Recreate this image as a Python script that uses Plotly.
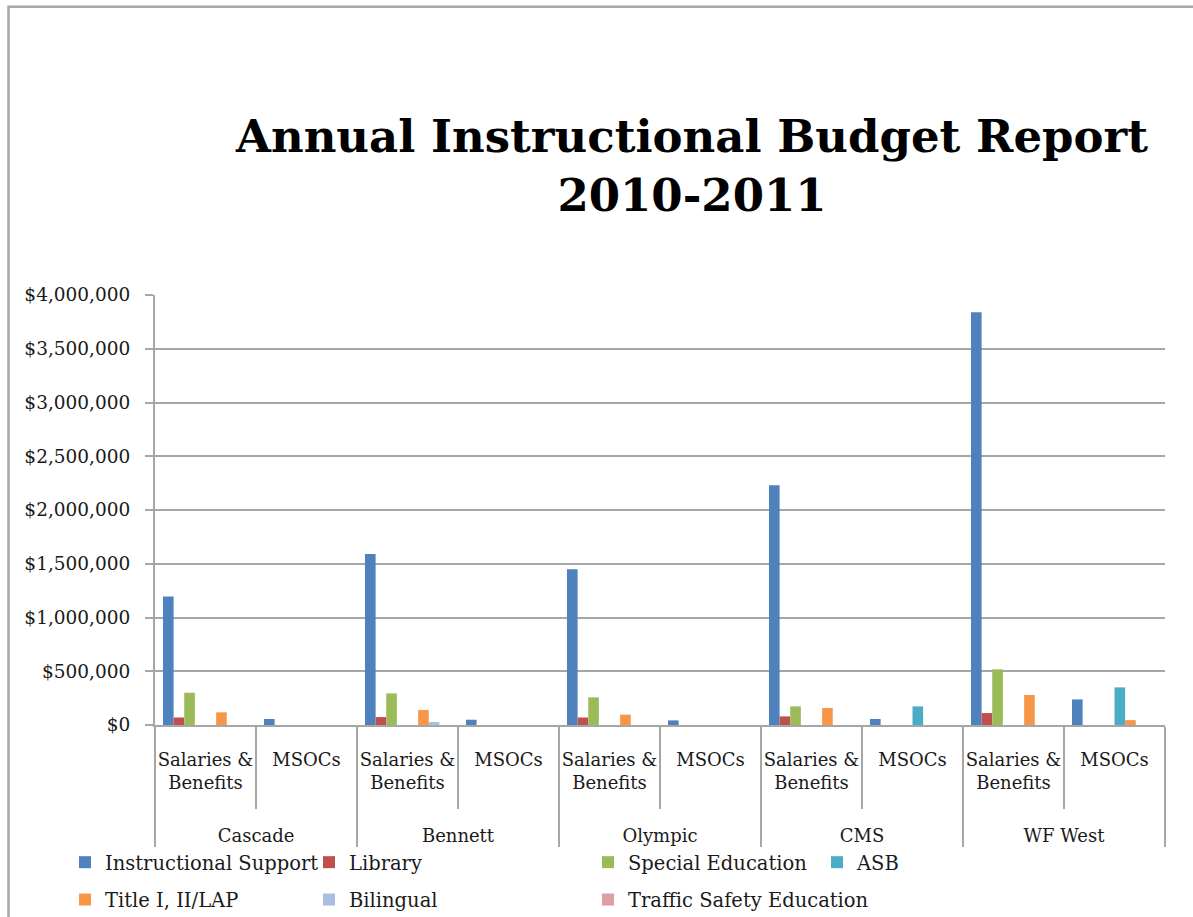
import plotly.graph_objects as go

# ---- data ----
schools = ["Cascade", "Bennett", "Olympic", "CMS", "WF West"]
cost_types = ["Salaries &<br>Benefits", "MSOCs"]

series_names = [
    "Instructional Support", "Library", "Special Education", "",
    "ASB", "Title I, II/LAP", "Bilingual", "Traffic Safety Education",
]
# order of values: Cascade S&B, Cascade MSOCs, Bennett S&B, Bennett MSOCs, ...
instructional_support = [1195000, 56000, 1590000, 49000, 1450000, 43000, 2230000, 56000, 3840000, 238000]
library = [70000, 0, 74000, 0, 70000, 0, 80000, 0, 111000, 0]
special_education = [300000, 0, 294000, 0, 257000, 0, 173000, 0, 518000, 0]
unlabelled = [0, 0, 0, 0, 0, 0, 0, 0, 0, 0]
asb = [0, 0, 0, 0, 0, 0, 0, 173000, 0, 350000]
title_lap = [118000, 0, 140000, 0, 96000, 0, 158000, 0, 279000, 45000]
bilingual = [0, 0, 28000, 0, 0, 0, 0, 0, 0, 0]
traffic_safety = [0, 0, 0, 0, 0, 0, 0, 0, 0, 0]

series_values = [instructional_support, library, special_education, unlabelled,
                 asb, title_lap, bilingual, traffic_safety]
colors = ["#4F81BD", "#C0504D", "#9BBB59", "#8064A2",
          "#4BACC6", "#F79646", "#A9BEE0", "#DDA0A0"]
legend_ids = ["legend", "legend2", "legend3", None, "legend4", "legend", "legend2", "legend3"]

# group labels get leading blank lines so they sit below the sub-labels as in the reference
group_display = ["<br><br>" + s for s in schools]
x_groups = [g for g in group_display for _ in cost_types]
x_subs = [c for _ in schools for c in cost_types]

FONT = "DejaVu Serif"
GRID = "#A6A6A6"
TXT = "#1a1a1a"

fig = go.Figure()
for i, (name, vals) in enumerate(zip(series_names, series_values)):
    lid = legend_ids[i]
    fig.add_trace(go.Bar(
        x=[x_groups, x_subs], y=vals, name=name,
        marker=dict(color=colors[i], line=dict(width=0)),
        showlegend=lid is not None,
        legend=lid if lid else "legend",
        legendgroup=f"g{i}",
        hoverinfo="skip" if lid is None else None,
    ))

fig.update_layout(
    width=1193, height=917,
    paper_bgcolor="white", plot_bgcolor="white",
    margin=dict(l=155, r=28, t=295, b=192, autoexpand=False),
    barmode="group", bargap=0.158, bargroupgap=0,
    font=dict(family=FONT, size=18, color=TXT),
    title=dict(
        text="<b>Annual Instructional Budget Report<br>2010-2011</b>",
        font=dict(family=FONT, size=45, color="black"),
        x=692 / 1193, xanchor="center", xref="container",
        y=1 - 152 / 917, yanchor="top", yref="container",
    ),
    xaxis=dict(
        type="multicategory", tickangle=0,
        showline=True, linecolor=GRID, linewidth=2,
        ticks="outside", tickson="boundaries", ticklen=82, tickcolor=GRID, tickwidth=2,
        showdividers=True, dividercolor=GRID, dividerwidth=2,
        ticklabelstandoff=17,
        tickfont=dict(family=FONT, size=18, color=TXT),
        showgrid=False,
    ),
    yaxis=dict(
        range=[0, 4000000], dtick=500000,
        tickprefix="$", tickformat=",d",
        showgrid=True, gridcolor=GRID, gridwidth=1.5,
        showline=True, linecolor=GRID, linewidth=2,
        ticks="outside", ticklen=8, tickcolor=GRID, tickwidth=1.5,
        ticklabelstandoff=11,
        tickfont=dict(family=FONT, size=18.5, color=TXT),
        zeroline=False,
    ),
)

leg_common = dict(orientation="v", xref="container", yref="container",
                  yanchor="top", xanchor="left", tracegroupgap=9,
                  bgcolor="rgba(0,0,0,0)", font=dict(family=FONT, size=19.5, color=TXT))
col_text_x = [105, 349, 628, 857]
ytop = 1 - 843 / 917
fig.update_layout(
    legend=dict(x=(col_text_x[0] - 40) / 1193, y=ytop, **leg_common),
    legend2=dict(x=(col_text_x[1] - 40) / 1193, y=ytop, **leg_common),
    legend3=dict(x=(col_text_x[2] - 40) / 1193, y=ytop, **leg_common),
    legend4=dict(x=(col_text_x[3] - 40) / 1193, y=ytop, **leg_common),
)

# outer chart frame (left and top edges visible in the reference)
fig.add_shape(type="rect", xref="paper", yref="paper",
              x0=(8.5 - 155) / 1010, x1=(1230 - 155) / 1010,
              y0=(725.5 - 960) / 430.5, y1=(725.5 - 6.5) / 430.5,
              line=dict(color="#A8A8A8", width=2.5), layer="below")

fig.write_html("out.html")
